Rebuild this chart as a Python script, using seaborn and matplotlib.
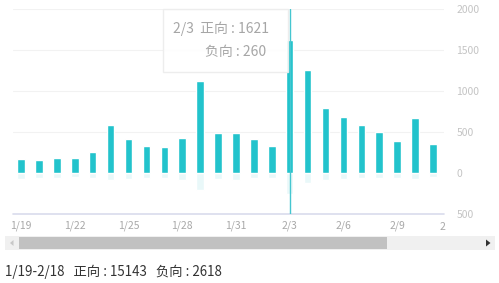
import matplotlib
matplotlib.use("Agg")
import matplotlib.pyplot as plt
import pandas as pd
import seaborn as sns
from matplotlib.patches import Rectangle, Polygon

# 数据：1/19 - 2/11 每日正向 / 负向
dates = ["1/19", "1/20", "1/21", "1/22", "1/23", "1/24", "1/25", "1/26",
         "1/27", "1/28", "1/29", "1/30", "1/31", "2/1", "2/2", "2/3",
         "2/4", "2/5", "2/6", "2/7", "2/8", "2/9", "2/10", "2/11"]
positive = [165, 156, 177, 189, 251, 585, 412, 325,
            317, 424, 1126, 483, 483, 412, 325, 1621,
            1254, 792, 681, 585, 499, 396, 672, 359]
negative = [70, 60, 60, 50, 60, 80, 70, 60,
            60, 80, 210, 70, 80, 60, 60, 260,
            120, 80, 70, 60, 60, 60, 70, 50]
y_ticks = [-500, 0, 500, 1000, 1500, 2000]
y_tick_labels = ["500", "0", "500", "1000", "1500", "2000"]
tick_every = 3
next_tick = "2/12"
highlight = "2/3"
summary = "1/19-2/18   正向 : 15143   负向 : 2618"

BAR = "#22c3cc"
NEG = "#e9f8f9"
GREY = "#a8a8a8"

sns.set_theme(style="white")
plt.rcParams["font.family"] = ["Noto Sans CJK SC", "DejaVu Sans"]

df = pd.DataFrame({"date": dates, "positive": positive,
                   "negative": [-v for v in negative]})

W, H = 499, 283
fig = plt.figure(figsize=(W / 100, H / 100), dpi=100)
ax = fig.add_axes([13 / W, 69 / H, 431 / W, 205 / H])

sns.barplot(data=df, x="date", y="negative", order=dates, color=NEG,
            width=0.42, saturation=1, ax=ax)
sns.barplot(data=df, x="date", y="positive", order=dates, color=BAR,
            width=0.42, saturation=1, ax=ax)

ax.set_xlim(-0.45, 23.62)
ax.set_ylim(-500, 2000)
for v in y_ticks[2:]:
    ax.axhline(v, color="#f2f2f2", lw=0.8, zorder=0)
for s in ax.spines.values():
    s.set_visible(False)
ax.axhline(-500, color="#d9dcec", lw=1.2, clip_on=False)

ax.yaxis.tick_right()
ax.set_yticks(y_ticks)
ax.set_yticklabels(y_tick_labels)
ax.tick_params(axis="y", length=0, pad=9, labelsize=7.5, labelcolor="#c4c4c4")
xt = list(range(0, len(dates), tick_every))
ax.set_xticks(xt)
ax.set_xticklabels([dates[i] for i in xt])
ax.tick_params(axis="x", length=0, pad=5, labelsize=7.5, labelcolor=GREY)
ax.set_xlabel("")
ax.set_ylabel("")

# 被截断的下一个刻度（只露出开头）
fig.text(440 / W, 1 - 227 / H, next_tick[0], fontsize=7.5, color=GREY,
         va="center", ha="left")

# 高亮指示线与提示框
hi = dates.index(highlight)
ax.axvline(hi, color="#45c6d0", lw=1, zorder=3)
box = Rectangle((163 / W, (H - 72) / H), 125 / W, 63 / H, transform=fig.transFigure,
                facecolor="white", edgecolor="#ececec", lw=1, alpha=0.9, zorder=5)
fig.patches.append(box)
fig.text(173 / W, 1 - 29 / H, f"{highlight}  正向 : {positive[hi]}", fontsize=10,
         color="#a6a6a6", va="center", zorder=6)
fig.text(266 / W, 1 - 52 / H, f"负向 : {negative[hi]}", fontsize=10,
         color="#a6a6a6", va="center", ha="right", zorder=6)

# 底部滚动条
fig.patches.append(Rectangle((5 / W, 1 - 250 / H), 490 / W, 14 / H,
                             transform=fig.transFigure, facecolor="#f0f0f0",
                             edgecolor="none"))
fig.patches.append(Rectangle((19 / W, 1 - 249 / H), 368 / W, 12 / H,
                             transform=fig.transFigure, facecolor="#c1c1c1",
                             edgecolor="none"))
fig.patches.append(Polygon([[13.5 / W, 1 - 240 / H], [13.5 / W, 1 - 246 / H],
                            [10 / W, 1 - 243 / H]], closed=True,
                           transform=fig.transFigure, facecolor="#c8c8c8",
                           edgecolor="none"))
fig.patches.append(Polygon([[486 / W, 1 - 239.5 / H], [486 / W, 1 - 246.5 / H],
                            [490.5 / W, 1 - 243 / H]], closed=True,
                           transform=fig.transFigure, facecolor="#333333",
                           edgecolor="none"))

fig.text(5 / W, 1 - 272 / H, summary, fontsize=9.6, color="#333333", va="center")

fig.savefig("out.png", dpi=100)
